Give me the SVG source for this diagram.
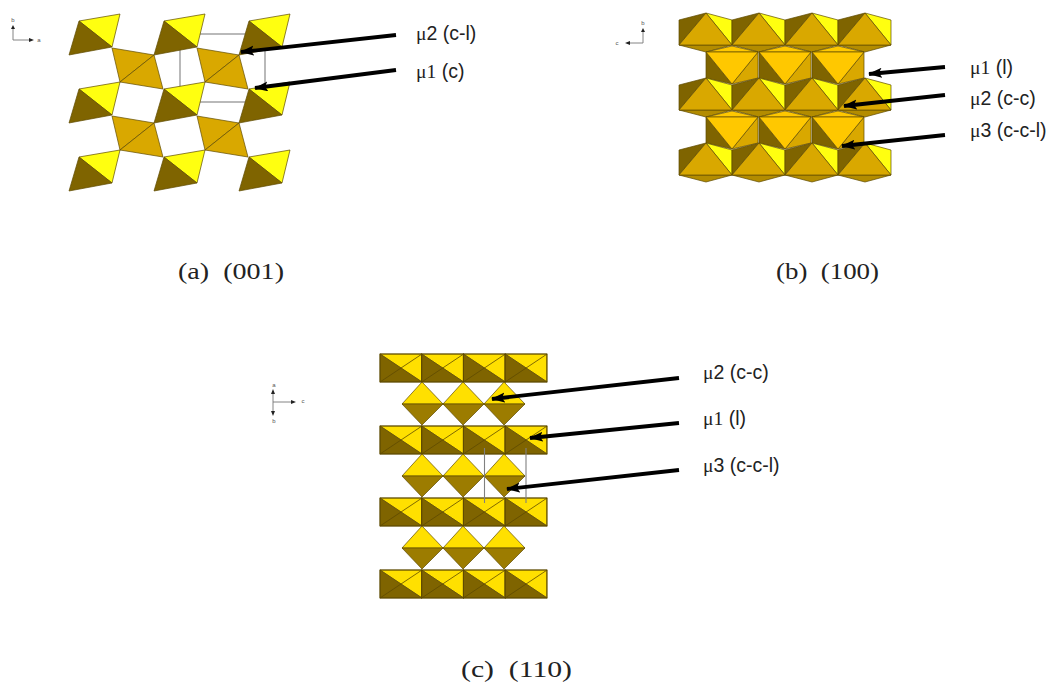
<svg xmlns="http://www.w3.org/2000/svg" width="1049" height="684" viewBox="0 0 1049 684">
<style>
.y{fill:#ffff10}.b{fill:#7f6400}.o{fill:#d9a800}.g{fill:#ffc800}.m{fill:#b38c00}.ye{fill:#ffe000}.br{fill:#9c7c00}
polygon{stroke:#5e4a00;stroke-width:.7;stroke-linejoin:round}
.t{fill:none;stroke:#5e4a00;stroke-width:.9}
.cell{fill:none;stroke:#808080;stroke-width:1.1}
.dg{stroke:#5e4a00;stroke-width:.8;fill:none}
.ax{stroke:#777;stroke-width:.9;fill:none}
.arr{stroke:#000;stroke-width:3.8;fill:none;marker-end:url(#ah)}
.axa{fill:#222}
.l{font-family:"Liberation Sans",Arial,sans-serif;font-size:19.5px;fill:#222}
.u{font-family:"Liberation Serif","Times New Roman",serif}
.c{font-family:"Liberation Serif","Times New Roman",serif;font-size:24px;fill:#222;word-spacing:6px}
.s{font-family:"Liberation Sans",Arial,sans-serif;font-size:6px;fill:#555;text-anchor:middle}
</style>
<defs>
<marker id="ah" markerUnits="userSpaceOnUse" markerWidth="16" markerHeight="12" refX="13" refY="5" orient="auto"><path d="M0,0 L14,5 L0,10 L3,5 Z" fill="#000"/></marker>
<g id="a1"><polygon class="y" points="79,21 120,14 112,47"/><polygon class="b" points="79,21 112,47 69,55"/></g>
<g id="a2"><polygon class="o" points="112,48 154,55 120,82"/><polygon class="o" points="154,55 163,89 120,82"/></g>
<g id="b1"><polygon class="m" points="679,45 732,45 706,52"/><polygon class="b" points="679,20 706,13 679,45"/><polygon class="y" points="706,13 732,20 732,45"/><polygon class="o" points="706,13 732,45 679,45"/></g>
<g id="b2"><polygon class="g" points="706,52 732,46 758,52"/><polygon class="b" points="706,52 732,84 706,78"/><polygon class="o" points="758,52 758,78 732,84"/><polygon class="g" points="706,52 758,52 732,84"/></g>
<g id="c1"><polygon class="ye" points="380,354 422,354 422,382"/><polygon class="b" points="380,354 422,382 380,382"/><path class="dg" d="M380,382 L422,354"/><rect class="t" x="380" y="354" width="41.7" height="28"/></g>
<g id="c2"><polygon class="ye" points="402,404 422,382 443,404"/><polygon class="br" points="402,404 443,404 422,425"/></g>
</defs>

<g id="panel-a">
<rect class="cell" x="180" y="34" width="85" height="68"/>
<use href="#a1"/><use href="#a1" x="85"/><use href="#a1" x="170"/>
<use href="#a1" y="68"/><use href="#a1" x="85" y="68"/><use href="#a1" x="170" y="68"/>
<use href="#a1" y="136"/><use href="#a1" x="85" y="136"/><use href="#a1" x="170" y="136"/>
<use href="#a2"/><use href="#a2" x="85"/>
<use href="#a2" y="68"/><use href="#a2" x="85" y="68"/>
</g>

<g id="panel-b">
<use href="#b1"/><use href="#b1" x="53"/><use href="#b1" x="106"/><use href="#b1" x="159"/>
<use href="#b2"/><use href="#b2" x="53"/><use href="#b2" x="106"/>
<use href="#b1" y="65"/><use href="#b1" x="53" y="65"/><use href="#b1" x="106" y="65"/><use href="#b1" x="159" y="65"/>
<use href="#b2" y="65"/><use href="#b2" x="53" y="65"/><use href="#b2" x="106" y="65"/>
<use href="#b1" y="130"/><use href="#b1" x="53" y="130"/><use href="#b1" x="106" y="130"/><use href="#b1" x="159" y="130"/>
</g>

<g id="panel-c">
<use href="#c1"/><use href="#c1" x="41.7"/><use href="#c1" x="83.4"/><use href="#c1" x="125.1"/>
<use href="#c2"/><use href="#c2" x="41"/><use href="#c2" x="82"/>
<use href="#c1" y="72"/><use href="#c1" x="41.7" y="72"/><use href="#c1" x="83.4" y="72"/><use href="#c1" x="125.1" y="72"/>
<use href="#c2" y="72"/><use href="#c2" x="41" y="72"/><use href="#c2" x="82" y="72"/>
<use href="#c1" y="144"/><use href="#c1" x="41.7" y="144"/><use href="#c1" x="83.4" y="144"/><use href="#c1" x="125.1" y="144"/>
<use href="#c2" y="144"/><use href="#c2" x="41" y="144"/><use href="#c2" x="82" y="144"/>
<use href="#c1" y="216"/><use href="#c1" x="41.7" y="216"/><use href="#c1" x="83.4" y="216"/><use href="#c1" x="125.1" y="216"/>
<path class="cell" d="M484.5,448V503M526,448V503"/>
</g>

<g id="axes">
<path class="ax" d="M13,29V40H30"/><path class="axa" d="M13,25l-2,4h4zM34,40l-5,-2v4z"/>
<text class="s" x="13" y="22">b</text><text class="s" x="39" y="42">a</text>
<path class="ax" d="M643,32V43H628"/><path class="axa" d="M643,28l-2,4h4zM625,43l5,-2v4z"/>
<text class="s" x="643" y="25">b</text><text class="s" x="617" y="45">c</text>
<path class="ax" d="M273,392V412M273,402H292"/><path class="axa" d="M273,389l-2,5h4zM273,416l-2,-5h4zM296,402l-5,-2v4z"/>
<text class="s" x="274" y="387">a</text><text class="s" x="274" y="423">b</text><text class="s" x="303" y="403">c</text>
</g>

<g id="connectors">
<path class="arr" d="M396,35 L241,52"/>
<path class="arr" d="M396,70 L255,88"/>
<path class="arr" d="M945,67 L869,74"/>
<path class="arr" d="M945,95 L844,106"/>
<path class="arr" d="M945,135 L842,146"/>
<path class="arr" d="M679,378 L492,399"/>
<path class="arr" d="M679,423 L530,438"/>
<path class="arr" d="M679,470 L507,489"/>
</g>

<g id="labels">
<text class="l" x="416" y="40"><tspan class="u">μ</tspan>2 (c-l)</text>
<text class="l" x="416" y="78"><tspan class="u">μ1</tspan> (c)</text>
<text class="l" x="970" y="74"><tspan class="u">μ1</tspan> (l)</text>
<text class="l" x="970" y="105"><tspan class="u">μ</tspan>2 (c-c)</text>
<text class="l" x="970" y="137"><tspan class="u">μ</tspan>3 (c-c-l)</text>
<text class="l" x="703" y="379"><tspan class="u">μ</tspan>2 (c-c)</text>
<text class="l" x="703" y="425"><tspan class="u">μ1</tspan> (l)</text>
<text class="l" x="703" y="472"><tspan class="u">μ</tspan>3 (c-c-l)</text>
</g>

<g id="captions">
<text class="c" x="178" y="279" textLength="106" lengthAdjust="spacingAndGlyphs">(a) (001)</text>
<text class="c" x="776" y="279" textLength="103" lengthAdjust="spacingAndGlyphs">(b) (100)</text>
<text class="c" x="461" y="677" textLength="111" lengthAdjust="spacingAndGlyphs">(c) (110)</text>
</g>
</svg>
